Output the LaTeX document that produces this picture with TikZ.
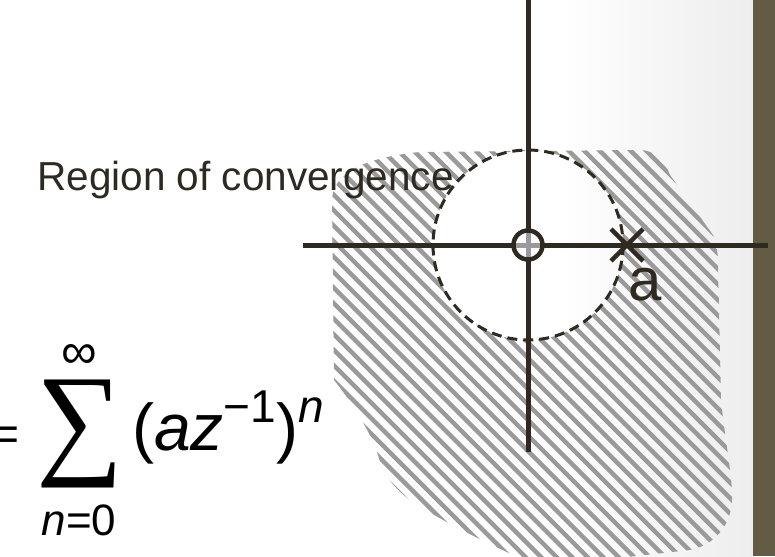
\documentclass[tikz,border=0pt]{standalone}
\usepackage{fontspec}
\setmainfont{Liberation Sans}
\newfontfamily\sumfont{Liberation Serif}
\definecolor{ink}{HTML}{2E2A22}
\definecolor{barc}{HTML}{645B45}
\definecolor{hatchc}{HTML}{9A9A9A}
\tikzset{
  axisline/.style={ink, line width=5pt},
  hatchline/.style={hatchc, line width=4.5pt},
  rocdash/.style={ink, line width=3pt, dash pattern=on 10pt off 6pt},
  bigtxt/.style={inner sep=0pt, font=\fontsize{66}{66}\selectfont},
}
\newcommand{\supx}[1]{\raisebox{27.5pt}{\fontsize{46}{46}\selectfont #1}}
\begin{document}
\begin{tikzpicture}[x=1pt,y=-1pt]
\useasboundingbox (0,0) rectangle (775,556);
\fill[white] (0,0) rectangle (775,556);
\shade[left color=white,right color=black!7] (560,0) rectangle (753,556);
\fill[barc] (753,0) rectangle (775,556);
% hatched region
\begin{scope}[even odd rule]
\clip (332,200) .. controls (333,175) and (360,158) .. (420,152)
  -- (640,150) .. controls (655,150) and (665,162) .. (670,175)
  -- (713,235) .. controls (717,245) and (718,255) .. (718,265)
  -- (721,400) .. controls (725,440) and (733,480) .. (732,500)
  .. controls (731,525) and (715,545) .. (690,550)
  -- (600,560) -- (520,558)
  .. controls (480,540) and (440,520) .. (410,500)
  .. controls (390,485) and (382,470) .. (378,455)
  .. controls (370,430) and (350,400) .. (334,380) -- cycle
  (528,245) circle (95);
\foreach \i in {-8,...,48} \draw[hatchline] (\i*15.5,140) -- ++(440,440);
\end{scope}
\coordinate (O) at (528,245);
\draw[rocdash] (O) circle (95);
\coordinate (ytop) at (528,0);
\coordinate (ybot) at (528,452);
\coordinate (xl) at (303,245);
\coordinate (xr) at (768,245);
\draw[axisline] (ytop) -- (ybot);
\draw[axisline] (xl) -- (xr);
\draw[ink, line width=4.5pt, fill=white] (O) circle (14.5);
\draw[hatchline, line width=5pt] (516,245) -- (540,245) (528,233) -- (528,257);
\coordinate (pole) at (627,245);
\draw[ink, line width=4.5pt] ([shift={(-16,-16)}]pole) -- ([shift={(16,16)}]pole)
  ([shift={(-16,16)}]pole) -- ([shift={(16,-16)}]pole);
\node[ink, inner sep=0pt, anchor=base west, font=\fontsize{60}{60}\selectfont] (alabel) at (628,300) {a};
\node[ink, inner sep=0pt, anchor=base east, font=\fontsize{40.5}{42}\selectfont] (roc) at (454,190) {Region of convergence};
% formula
\node[inner sep=0pt, anchor=base east, font=\fontsize{48}{48}\selectfont] (eq) at (19.5,450) {=};
\node[inner sep=0pt, anchor=south west] (sum) at (36,488) {\resizebox*{87pt}{108pt}{\sumfont ∑}};
\node[inner sep=0pt, font=\fontsize{50}{50}\selectfont] (inf) at (79,356) {∞};
\node[inner sep=0pt, anchor=base, font=\fontsize{44}{44}\selectfont] (low) at (79,535) {\textit{n}=0};
\node[bigtxt, anchor=base west] (main) at (132,450) {(\textit{az}\supx{−1})\supx{\textit{n}}};
\end{tikzpicture}
\end{document}
